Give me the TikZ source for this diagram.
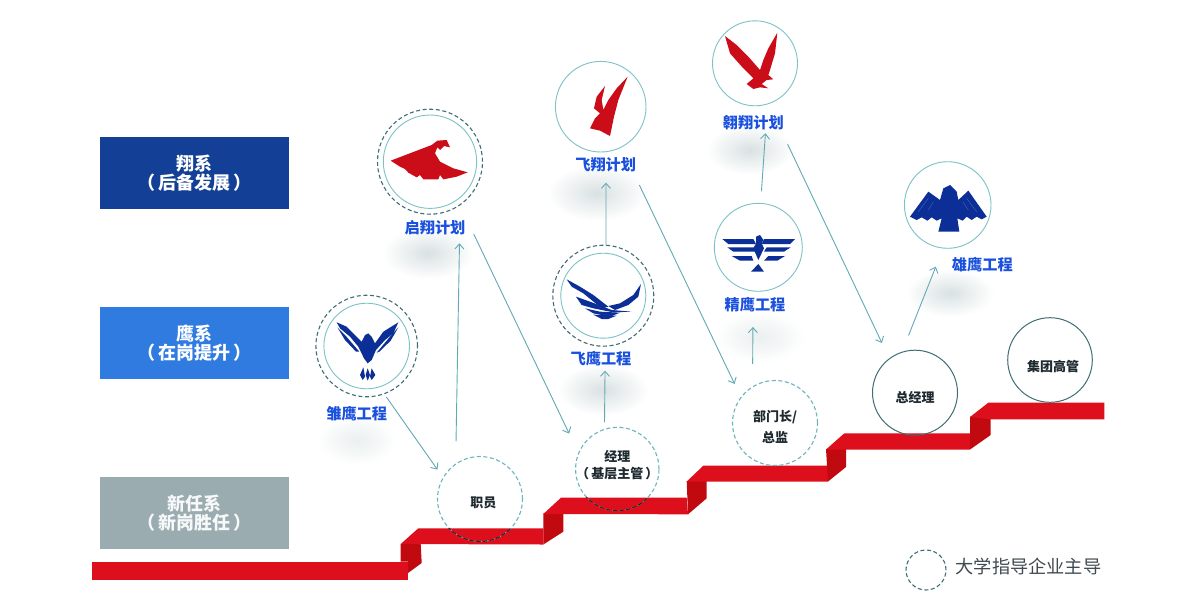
\documentclass[tikz,border=0pt]{standalone}
\usepackage{fontspec}
\setmainfont{Noto Sans CJK SC}
\usetikzlibrary{arrows.meta,calc}
\definecolor{stairred}{HTML}{DE0F1C}
\definecolor{riserred}{HTML}{C10A0F}
\definecolor{logored}{HTML}{CB0D1A}
\definecolor{logoblue}{HTML}{0C2F97}
\definecolor{conn}{HTML}{63A9B4}
\definecolor{ringteal}{HTML}{7CC2C6}
\definecolor{dashteal}{HTML}{6DB4BE}
\definecolor{dashdark}{HTML}{3F6E74}
\definecolor{navybox}{HTML}{133F96}
\definecolor{bluebox}{HTML}{2F7BE0}
\definecolor{greybox}{HTML}{9AACB0}
\definecolor{labelblue}{HTML}{1A50DE}
\definecolor{ink}{HTML}{1E2A30}
\definecolor{softA}{HTML}{D9E1E2}
\definecolor{softB}{HTML}{EAEFEF}
\newcommand{\fs}[1]{\fontsize{#1}{#1}\selectfont}
\newcommand{\boxtext}[2]{#1\\[1.5pt]（\,#2\,）}
\tikzset{
  x=1pt,y=-1pt,
  levelbox/.style={minimum width=189pt,minimum height=72pt,inner sep=0pt,outer sep=0pt,text=white,align=center,font=\fs{18}\bfseries},
  ring/.style={circle,draw=ringteal,line width=0.9pt,inner sep=0pt,outer sep=0pt,minimum size=#1*2pt},
  dashring/.style={circle,draw=dashdark,line width=1.1pt,dash pattern=on 4pt off 2.6pt,inner sep=0pt,outer sep=0pt,minimum size=#1*2pt},
  jobdash/.style={circle,draw=dashteal,line width=1.1pt,dash pattern=on 4pt off 2.6pt,inner sep=0pt,outer sep=0pt,minimum size=#1*2pt},
  jobsolid/.style={circle,draw=dashdark,line width=1pt,inner sep=0pt,outer sep=0pt,minimum size=#1*2pt},
  jobtext/.style={inner sep=0pt,align=center,text=ink,font=\fs{13}\bfseries},
  planlabel/.style={minimum width=64pt,minimum height=16pt,inner sep=0pt,outer sep=0pt,text=labelblue,font=\fs{15.2}\bfseries},
  flow/.style={draw=conn,line width=0.9pt},
  flowa/.style={flow,-{Straight Barb[length=5pt,width=9pt,line width=0.9pt]}},
  zoomA/.style={shift={(300,120)},x=0.33333pt,y=-0.33333pt},
  zoomB/.style={shift={(540,10)},x=0.33333pt,y=-0.33333pt},
  zoomD/.style={shift={(800,150)},x=0.33333pt,y=-0.33333pt},
}
\begin{document}
\begin{tikzpicture}
\useasboundingbox (0,0) rectangle (1190,611);
\fill[white] (0,0) rectangle (1190,611);
% soft shadows
\foreach \cx/\cy/\rx/\ry in {428/253/46/26, 603/390/46/26, 597/193/50/28, 750/150/44/25, 950/293/44/24}{
  \shade[inner color=softA,outer color=white] (\cx,\cy) ellipse [x radius=\rx,y radius=\ry];
}
\foreach \cx/\cy/\rx/\ry in {357/440/40/25, 760/337/46/26}{
  \shade[inner color=softB,outer color=white] (\cx,\cy) ellipse [x radius=\rx,y radius=\ry];
}
% stairs
\fill[stairred] (92,561.5) -- (408,561.5) -- (408,580) -- (92,580) -- cycle;
\fill[riserred] (400.7,544) -- (420.7,544) -- (421.7,563) -- (408,573) -- (408,561.5) -- (400.7,561.5) -- cycle;
\fill[stairred] (400.7,544) -- (418.3,528.3) -- (543.3,528.3) -- (543.3,544.5) -- cycle;
\fill[riserred] (543.3,513.3) -- (563.3,513.3) -- (563.3,531.7) -- (543.3,544.5) -- cycle;
\fill[stairred] (543.3,514) -- (561,497.7) -- (686.7,497.7) -- (688,514.3) -- cycle;
\fill[riserred] (686.7,481) -- (706.7,481) -- (706.7,498.3) -- (688,514.3) -- cycle;
\fill[stairred] (686.7,481.5) -- (703.3,465.7) -- (828,465.7) -- (828,481.5) -- cycle;
\fill[riserred] (826,449) -- (846,449) -- (846,467) -- (828,481.5) -- cycle;
\fill[stairred] (826,449.5) -- (844.3,433.3) -- (970,433.3) -- (970,449.5) -- cycle;
\fill[riserred] (970,416.7) -- (990.7,418) -- (990.7,435) -- (970,449.5) -- cycle;
\fill[stairred] (970,417) -- (988.3,402.7) -- (1104.3,402.7) -- (1104.3,419.3) -- (990,419.3) -- cycle;
% level boxes
\node[levelbox,fill=navybox] (lv1) at (194.5,173) {\boxtext{翔系}{后备发展}};
\node[levelbox,fill=bluebox] (lv2) at (194.5,343) {\boxtext{鹰系}{在岗提升}};
\node[levelbox,fill=greybox,text=white!92!greybox] (lv3) at (194.5,513) {\boxtext{新任系}{新岗胜任}};
% logo rings
\node[ring=46.7] (qx) at (430,161.7) {};
\node[dashring=52.5] (qxd) at (430,161.7) {};
\node[ring=42.8] (yc) at (366.7,346) {};
\node[dashring=50.8] (ycd) at (366.7,346) {};
\node[ring=42.5] (fy) at (603.3,295.7) {};
\node[dashring=50.5] (fyd) at (603.3,295.7) {};
\node[ring=45.3] (fx) at (600.7,106.7) {};
\node[ring=42.5] (ax) at (755,63.3) {};
\node[ring=44] (jy) at (758.3,247.3) {};
\node[ring=43.3] (xy) at (947.7,205) {};
% plan labels
\node[planlabel] (qxl) at (435,227.3) {启翔计划};
\node[planlabel] (ycl) at (356.7,414) {雏鹰工程};
\node[planlabel] (fyl) at (601,358.7) {飞鹰工程};
\node[planlabel] (fxl) at (605.7,165) {飞翔计划};
\node[planlabel] (axl) at (753.3,122.7) {翱翔计划};
\node[planlabel] (jyl) at (755,305) {精鹰工程};
\node[planlabel] (xyl) at (982.3,265) {雄鹰工程};
% job circles
\node[jobdash=42.5] (zy) at (480,499) {};
\node[jobdash=41.7] (jl) at (617.3,469) {};
\node[jobdash=42.5] (bm) at (775,423) {};
\node[jobsolid=42.5] (zj) at (915,392.7) {};
\node[jobsolid=42.3] (jt) at (1050,360) {};
\node[jobtext] (zyt) at (483.3,503) {职员};
\node[jobtext] (jlt) at (617.3,465.5) {经理\\[4pt]（\,基层主管\,）};
\node[jobtext] (bmt) at (775,427) {部门长/\\[7pt]总监};
\node[jobtext] (zjt) at (915,397.5) {总经理};
\node[jobtext] (jtt) at (1053,366) {集团高管};
% dark part of the dashes, over the stair
\begin{scope}
\clip (400,528.3) rectangle (560,545);
\draw[draw=black!85,line width=1.1pt,dash pattern=on 4pt off 2.6pt] (480,499) circle [radius=42.5];
\end{scope}
\begin{scope}
\clip (560,497.7) rectangle (680,515);
\draw[draw=black!85,line width=1.1pt,dash pattern=on 4pt off 2.6pt] (617.3,469) circle [radius=41.7];
\end{scope}
% connectors
\draw[flowa,shorten <=4pt,shorten >=10pt] (ycd.-70) -- (zy.150);
\draw[flowa,shorten <=22.7pt,shorten >=8pt] (zy.125) -- (qxl.-18.4);
\draw[flowa,shorten <=15.6pt,shorten >=22pt] (qxl.13) -- (jl.158);
\draw[flowa,shorten <=7pt,shorten >=4pt] (jl.108.6) -- (fyl.-63.4);
\draw[flowa,shorten <=0.5pt,shorten >=9.7pt] (fyd.87) -- (fxl.-88);
\draw[flowa,shorten <=13.3pt,shorten >=15pt] (fxl.-16) -- (bm.143);
\draw[flowa,shorten <=23pt,shorten >=14pt] (bm.122.8) -- (jyl.-104);
\draw[flowa,shorten <=12pt,shorten >=2.6pt] (jy.87) -- (axl.-33.7);
\draw[flowa,shorten <=15pt,shorten >=17.5pt] (axl.-16.6) -- (zj.127.7);
\draw[flowa,shorten <=18pt,shorten >=20pt] (zj.108.4) -- (xy.-96);
% legend
\node[dashring=20,draw=dashdark] (lg) at (926,570) {};
\node[anchor=west,inner sep=0pt,text=ink!85,font=\fs{18.2}] (lgt) at (955.5,566) {大学指导企业主导};
% eagle: qixiang
\begin{scope}[zoomA]
\fill[logored] (272,122) -- (340,96) -- (395,75) -- (412,62) -- (440,60) -- (450,82) -- (432,78) -- (420,90) -- (412,82) -- (405,100) -- (420,125) -- (460,145) -- (503,157) -- (470,170) -- (430,178) -- (420,165) -- (415,178) -- (370,178) -- (360,165) -- (350,172) -- (325,158) -- (315,147) -- (300,140) -- cycle;
% eagle: yuying
\fill[logoblue] (110,607) -- (140,620) -- (170,650) -- (185,665) -- (195,645) -- (205,640) -- (215,650) -- (225,670) -- (250,635) -- (295,607) -- (280,640) -- (255,660) -- (228,690) -- (215,720) -- (203,730) -- (192,715) -- (175,680) -- (150,650) -- (120,625) -- cycle;
\fill[logoblue] (112,622) -- (135,645) -- (178,695) -- (168,695) -- (135,660) -- cycle;
\fill[logoblue] (295,622) -- (270,650) -- (230,698) -- (238,695) -- (272,662) -- cycle;
\fill[logoblue] (180,765) -- (190,742) -- (195,770) -- (188,780) -- cycle;
\fill[logoblue] (203,745) -- (210,765) -- (203,782) -- (197,765) -- cycle;
\fill[logoblue] (215,745) -- (226,765) -- (215,780) -- (210,770) -- cycle;
% eagle: feiying
\fill[logoblue] (800,478) -- (840,500) -- (880,525) -- (925,560) -- (905,565) -- (850,520) -- (815,500) -- cycle;
\fill[logoblue] (828,530) -- (870,545) -- (935,570) -- (995,575) -- (940,577) -- (880,565) -- (845,555) -- cycle;
\fill[logoblue] (855,565) -- (900,575) -- (960,578) -- (930,590) -- (880,580) -- cycle;
\fill[logoblue] (1023,492) -- (1015,530) -- (985,555) -- (945,570) -- (925,558) -- (960,550) -- (1000,525) -- cycle;
\fill[logoblue] (880,584) -- (950,587) -- (925,597) -- (905,597) -- cycle;
\end{scope}
% eagle: feixiang, aoxiang, jingying
\begin{scope}[zoomB]
\fill[logored] (263,200) -- (235,270) -- (222,320) -- (210,378) -- (180,362) -- (150,355) -- (165,325) -- (180,310) -- (162,295) -- (170,260) -- (195,228) -- (185,270) -- (190,300) -- (205,270) -- (230,235) -- cycle;
\fill[logored] (555,78) -- (590,105) -- (625,140) -- (660,180) -- (670,150) -- (685,115) -- (712,68) -- (705,130) -- (690,180) -- (685,195) -- (700,208) -- (680,210) -- (665,222) -- (685,235) -- (660,232) -- (640,237) -- (620,222) -- (640,205) -- (610,175) -- (570,130) -- cycle;
\fill[logoblue] (547,687) -- (640,687) -- (648,702) -- (565,702) -- cycle;
\fill[logoblue] (562,712) -- (642,712) -- (650,725) -- (580,725) -- cycle;
\fill[logoblue] (575,738) -- (635,738) -- (640,752) -- (600,752) -- cycle;
\fill[logoblue] (765,687) -- (672,687) -- (665,702) -- (750,702) -- cycle;
\fill[logoblue] (752,712) -- (680,712) -- (672,725) -- (732,725) -- cycle;
\fill[logoblue] (735,738) -- (685,738) -- (672,752) -- (712,752) -- cycle;
\fill[logoblue] (648,680) -- (660,675) -- (670,690) -- (665,700) -- (672,715) -- (655,750) -- (640,715) -- (648,700) -- cycle;
\fill[logoblue] (655,762) -- (672,785) -- (633,785) -- cycle;
\end{scope}
% eagle: xiongying
\begin{scope}[zoomD]
\fill[logoblue] (330,200) -- (385,125) -- (420,150) -- (430,115) -- (450,105) -- (470,125) -- (475,150) -- (505,122) -- (560,200) -- (545,208) -- (530,200) -- (515,210) -- (500,200) -- (488,212) -- (472,205) -- (478,245) -- (415,245) -- (425,205) -- (410,212) -- (395,202) -- (382,212) -- (365,202) -- (350,210) -- cycle;
\draw[white!25!logoblue,line width=0.4pt] (385,145) -- (355,185) (400,155) -- (385,180) (500,145) -- (530,185) (488,155) -- (505,180);
\end{scope}
\end{tikzpicture}
\end{document}
